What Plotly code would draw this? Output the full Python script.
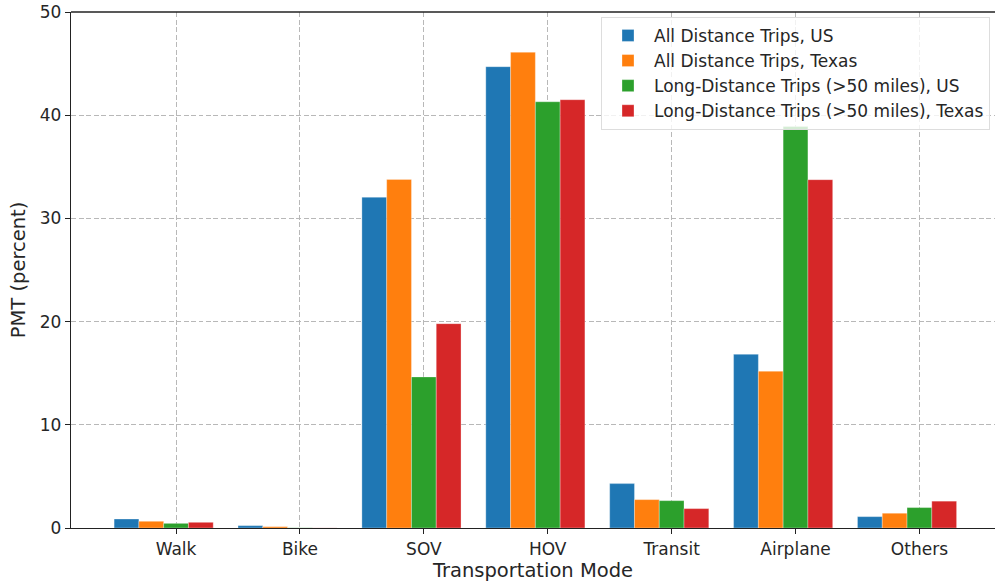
import plotly.graph_objects as go

categories = ["Walk", "Bike", "SOV", "HOV", "Transit", "Airplane", "Others"]
series_names = [
    "All Distance Trips, US",
    "All Distance Trips, Texas",
    "Long-Distance Trips (>50 miles), US",
    "Long-Distance Trips (>50 miles), Texas",
]
all_us = [0.87, 0.23, 32.05, 44.7, 4.3, 16.83, 1.1]
all_tx = [0.65, 0.13, 33.78, 46.1, 2.75, 15.19, 1.43]
long_us = [0.45, 0.02, 14.64, 41.3, 2.65, 38.9, 1.98]
long_tx = [0.55, 0.01, 19.8, 41.5, 1.88, 33.75, 2.6]
y_ticks = [0, 10, 20, 30, 40, 50]

series_values = [all_us, all_tx, long_us, long_tx]
colors = ["#1f77b4", "#ff7f0e", "#2ca02c", "#d62728"]
bar_w = 0.2
idx = list(range(len(categories)))

fig = go.Figure()
for k, (name, vals, col) in enumerate(zip(series_names, series_values, colors)):
    fig.add_trace(go.Bar(
        x=idx, y=vals, name=name,
        width=bar_w, offset=(k - 2) * bar_w - bar_w / 2,
        marker=dict(color=col, line=dict(width=0.6, color="rgba(255,255,255,0.5)")),
    ))

font_family = "DejaVu Sans"
fig.update_layout(
    width=995, height=584,
    margin=dict(l=71, r=0, t=12, b=56, pad=0),
    barmode="overlay",
    plot_bgcolor="white", paper_bgcolor="white",
    font=dict(family=font_family, size=17, color="#262626"),
    legend=dict(
        x=0.9946, y=0.9905, xanchor="right", yanchor="top",
        bgcolor="rgba(255,255,255,0.8)", bordercolor="#dddddd", borderwidth=1,
        font=dict(family=font_family, size=17, color="#262626"),
        itemwidth=42, tracegroupgap=0,
    ),
    showlegend=True,
)
# top spine (matplotlib-style frame; right spine falls outside the picture)
fig.add_shape(type="line", xref="paper", yref="paper", x0=0, x1=1, y0=1, y1=1,
              line=dict(color="#222222", width=1.3), layer="above")
fig.update_xaxes(
    range=[-0.848, 6.61],
    tickmode="array", tickvals=idx, ticktext=categories,
    showline=True, linecolor="#222222", linewidth=1.3, mirror=False,
    ticks="outside", ticklen=5, tickwidth=1.3, tickcolor="#222222",
    showgrid=True, gridcolor="#b8b8b8", gridwidth=1, griddash="5px,2.5px",
    zeroline=False,
    tickfont=dict(size=17),
    title=dict(text="Transportation Mode", font=dict(size=19.5), standoff=2),
)
fig.update_yaxes(
    range=[0, 50],
    tickmode="array", tickvals=y_ticks,
    showline=True, linecolor="#222222", linewidth=1.3, mirror=False,
    ticks="outside", ticklen=5, tickwidth=1.3, tickcolor="#222222",
    showgrid=True, gridcolor="#b8b8b8", gridwidth=1, griddash="5px,2.5px",
    zeroline=False,
    tickfont=dict(size=17),
    title=dict(text="PMT (percent)", font=dict(size=19.5), standoff=8),
)

fig.write_html("out.html", config={"displayModeBar": False},
               post_script="document.body.style.margin='0';")
